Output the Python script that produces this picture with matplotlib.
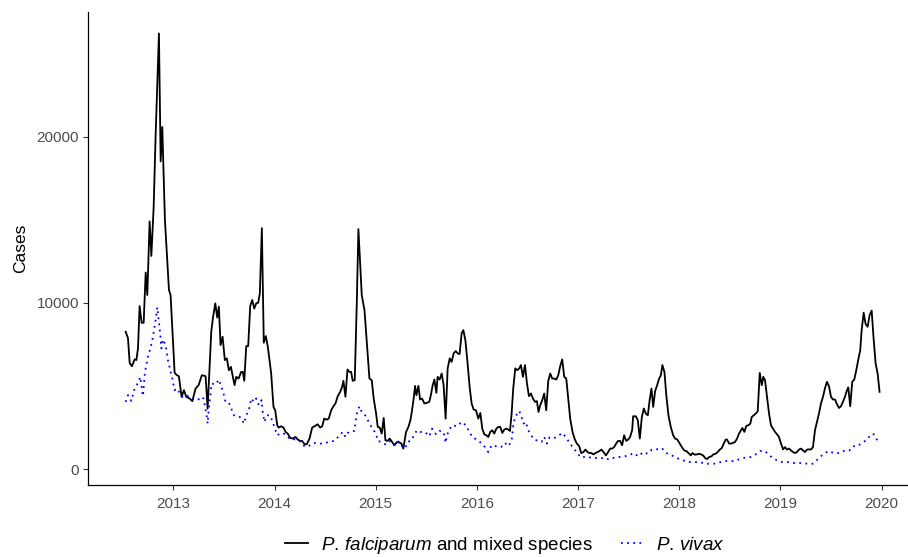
import matplotlib
matplotlib.use("Agg")
import matplotlib.pyplot as plt
from matplotlib.lines import Line2D

plt.rcParams['font.family'] = ['Liberation Sans', 'DejaVu Sans']
plt.rcParams['mathtext.fontset'] = 'custom'
plt.rcParams['mathtext.rm'] = 'Liberation Sans'
plt.rcParams['mathtext.it'] = 'Liberation Sans:italic'

# weekly case counts (x in decimal years)
falc_years = [
  2012.529, 2012.552, 2012.569, 2012.591, 2012.618, 2012.635, 2012.651, 2012.667, 2012.687, 2012.707,
  2012.727, 2012.743, 2012.766, 2012.783, 2012.806, 2012.825, 2012.858, 2012.875, 2012.891, 2012.917,
  2012.957, 2012.973, 2013.013, 2013.036, 2013.055, 2013.082, 2013.105, 2013.128, 2013.161, 2013.188,
  2013.220, 2013.250, 2013.282, 2013.319, 2013.339, 2013.375, 2013.391, 2013.415, 2013.434, 2013.450,
  2013.467, 2013.487, 2013.509, 2013.529, 2013.549, 2013.569, 2013.605, 2013.622, 2013.645, 2013.671,
  2013.687, 2013.701, 2013.721, 2013.740, 2013.760, 2013.780, 2013.800, 2013.819, 2013.839, 2013.855,
  2013.875, 2013.894, 2013.914, 2013.934, 2013.967, 2013.990, 2014.007, 2014.027, 2014.042, 2014.066,
  2014.089, 2014.109, 2014.131, 2014.155, 2014.181, 2014.207, 2014.230, 2014.254, 2014.273, 2014.296,
  2014.319, 2014.346, 2014.372, 2014.395, 2014.427, 2014.451, 2014.471, 2014.491, 2014.516, 2014.536,
  2014.560, 2014.582, 2014.602, 2014.625, 2014.649, 2014.668, 2014.681, 2014.701, 2014.721, 2014.740,
  2014.757, 2014.773, 2014.793, 2014.813, 2014.829, 2014.862, 2014.889, 2014.915, 2014.938, 2014.961,
  2014.980, 2015.004, 2015.020, 2015.040, 2015.059, 2015.079, 2015.096, 2015.118, 2015.138, 2015.162,
  2015.185, 2015.211, 2015.234, 2015.254, 2015.273, 2015.300, 2015.323, 2015.343, 2015.359, 2015.375,
  2015.389, 2015.402, 2015.422, 2015.438, 2015.458, 2015.481, 2015.507, 2015.530, 2015.547, 2015.563,
  2015.580, 2015.599, 2015.612, 2015.632, 2015.652, 2015.671, 2015.691, 2015.711, 2015.731, 2015.750,
  2015.770, 2015.790, 2015.810, 2015.829, 2015.849, 2015.866, 2015.886, 2015.908, 2015.928, 2015.948,
  2015.967, 2015.991, 2016.014, 2016.034, 2016.053, 2016.073, 2016.093, 2016.113, 2016.132, 2016.152,
  2016.172, 2016.192, 2016.211, 2016.231, 2016.251, 2016.271, 2016.290, 2016.310, 2016.327, 2016.343,
  2016.359, 2016.379, 2016.399, 2016.419, 2016.435, 2016.455, 2016.475, 2016.495, 2016.514, 2016.534,
  2016.554, 2016.574, 2016.593, 2016.609, 2016.626, 2016.646, 2016.665, 2016.685, 2016.705, 2016.725,
  2016.744, 2016.764, 2016.784, 2016.804, 2016.823, 2016.843, 2016.863, 2016.883, 2016.902, 2016.922,
  2016.945, 2016.968, 2016.988, 2017.011, 2017.031, 2017.053, 2017.073, 2017.093, 2017.113, 2017.132,
  2017.152, 2017.172, 2017.192, 2017.211, 2017.231, 2017.251, 2017.275, 2017.297, 2017.317, 2017.337,
  2017.356, 2017.376, 2017.396, 2017.416, 2017.435, 2017.455, 2017.475, 2017.495, 2017.514, 2017.534,
  2017.544, 2017.571, 2017.590, 2017.610, 2017.630, 2017.650, 2017.669, 2017.689, 2017.709, 2017.725,
  2017.742, 2017.761, 2017.781, 2017.801, 2017.818, 2017.833, 2017.853, 2017.873, 2017.893, 2017.916,
  2017.939, 2017.959, 2017.981, 2018.005, 2018.025, 2018.048, 2018.070, 2018.090, 2018.114, 2018.130,
  2018.153, 2018.176, 2018.196, 2018.215, 2018.235, 2018.255, 2018.275, 2018.294, 2018.317, 2018.337,
  2018.360, 2018.380, 2018.400, 2018.420, 2018.439, 2018.459, 2018.472, 2018.492, 2018.511, 2018.531,
  2018.551, 2018.571, 2018.590, 2018.610, 2018.623, 2018.643, 2018.662, 2018.682, 2018.702, 2018.716,
  2018.736, 2018.755, 2018.775, 2018.795, 2018.815, 2018.830, 2018.847, 2018.867, 2018.887, 2018.906,
  2018.926, 2018.946, 2018.966, 2018.985, 2019.005, 2019.025, 2019.045, 2019.064, 2019.084, 2019.104,
  2019.124, 2019.143, 2019.163, 2019.183, 2019.203, 2019.222, 2019.242, 2019.262, 2019.281, 2019.301,
  2019.321, 2019.341, 2019.360, 2019.380, 2019.400, 2019.420, 2019.439, 2019.459, 2019.479, 2019.499,
  2019.518, 2019.538, 2019.558, 2019.578, 2019.597, 2019.617, 2019.637, 2019.657, 2019.670, 2019.689,
  2019.709, 2019.729, 2019.749, 2019.768, 2019.788, 2019.802, 2019.822, 2019.841, 2019.861, 2019.881,
  2019.901, 2019.920, 2019.940, 2019.960, 2019.979,
]
falc_cases = [
  8270, 7890, 6385, 6200, 6610, 6570, 7270, 9820, 8810, 8810,
  11830, 10480, 14900, 12830, 15800, 20020, 26200, 18510, 20580, 15000,
  10780, 10480, 5800, 5660, 5600, 4360, 4760, 4360, 4260, 4100,
  4860, 5060, 5660, 5600, 3650, 8270, 9080, 9980, 9120, 9780,
  7470, 7970, 6570, 6670, 5960, 6160, 5060, 5560, 5460, 5860,
  5860, 5320, 7410, 7410, 9820, 10180, 9660, 9980, 10020, 10580,
  14500, 7610, 8010, 7370, 5760, 3750, 3550, 2650, 2510, 2590,
  2510, 2250, 2150, 1890, 1850, 1950, 1790, 1710, 1710, 1510,
  1510, 1850, 2510, 2590, 2710, 2510, 2590, 3050, 2990, 3050,
  3550, 3790, 3960, 4400, 4660, 4960, 5320, 4360, 6000, 5860,
  5860, 5320, 5360, 9980, 14440, 10480, 9580, 7370, 5460, 5360,
  4260, 3350, 2550, 2510, 2150, 3090, 1750, 1710, 1850, 1650,
  1450, 1650, 1610, 1550, 1250, 2250, 2550, 2950, 3550, 4260,
  5020, 4460, 5020, 4200, 4260, 3960, 4000, 4060, 4520, 5060,
  5400, 4600, 5560, 5400, 5760, 5060, 3050, 6070, 6670, 6460,
  6970, 7110, 6970, 6930, 8170, 8370, 7770, 6370, 4960, 3960,
  3600, 3550, 3050, 3390, 2450, 2110, 2050, 1950, 2250, 2350,
  2150, 2450, 2550, 2550, 2190, 2390, 2450, 2390, 2310, 3350,
  4860, 6070, 5960, 6070, 6270, 5560, 6270, 5160, 4400, 4560,
  4260, 4060, 4100, 3450, 3860, 4160, 4560, 3550, 5320, 5760,
  5460, 5460, 5400, 5660, 6200, 6610, 5560, 5460, 4260, 3050,
  2250, 1790, 1550, 1390, 980, 1040, 1190, 1040, 980, 980,
  900, 980, 1040, 1100, 1190, 1040, 840, 1040, 1250, 1250,
  1340, 1550, 1710, 1710, 1450, 2050, 1710, 1790, 1950, 2350,
  3190, 3190, 2950, 1850, 3150, 3660, 3350, 3250, 4260, 4860,
  3750, 4700, 5060, 5460, 5660, 6270, 5860, 4360, 3250, 2550,
  2050, 1850, 1790, 1550, 1340, 1140, 1100, 980, 840, 980,
  880, 900, 940, 900, 840, 680, 620, 740, 780, 900,
  940, 1040, 1190, 1280, 1550, 1790, 1790, 1550, 1550, 1590,
  1650, 1850, 2150, 2350, 2490, 2250, 2610, 2650, 2750, 3150,
  3250, 3350, 3490, 5800, 5060, 5560, 5360, 4360, 3350, 2650,
  2450, 2250, 2110, 1950, 1550, 1200, 1340, 1190, 1250, 1140,
  1040, 980, 1040, 1190, 1250, 1140, 1040, 1190, 1200, 1190,
  1340, 2350, 2850, 3350, 3960, 4360, 4860, 5260, 5000, 4360,
  4200, 4200, 3920, 3690, 3790, 4060, 4360, 4760, 4920, 3790,
  5260, 5400, 5960, 6570, 7170, 8370, 9420, 8730, 8570, 9280,
  9540, 7870, 6370, 5760, 4660,
]

vivax_years = [
  2012.529, 2012.552, 2012.585, 2012.618, 2012.651, 2012.674, 2012.690, 2012.700, 2012.717, 2012.727,
  2012.749, 2012.773, 2012.793, 2012.806, 2012.825, 2012.842, 2012.858, 2012.872, 2012.882, 2012.897,
  2012.924, 2012.947, 2012.970, 2012.990, 2013.013, 2013.036, 2013.062, 2013.089, 2013.118, 2013.144,
  2013.178, 2013.210, 2013.243, 2013.270, 2013.299, 2013.319, 2013.332, 2013.339, 2013.351, 2013.365,
  2013.378, 2013.418, 2013.450, 2013.467, 2013.490, 2013.516, 2013.549, 2013.573, 2013.598, 2013.638,
  2013.671, 2013.697, 2013.721, 2013.746, 2013.770, 2013.796, 2013.819, 2013.845, 2013.872, 2013.885,
  2013.901, 2013.924, 2013.951, 2013.977, 2014.000, 2014.027, 2014.056, 2014.082, 2014.116, 2014.148,
  2014.181, 2014.214, 2014.247, 2014.279, 2014.319, 2014.352, 2014.388, 2014.437, 2014.484, 2014.536,
  2014.592, 2014.635, 2014.674, 2014.701, 2014.724, 2014.757, 2014.790, 2014.807, 2014.822, 2014.839,
  2014.862, 2014.905, 2014.938, 2014.970, 2015.004, 2015.020, 2015.053, 2015.093, 2015.135, 2015.178,
  2015.217, 2015.251, 2015.290, 2015.316, 2015.355, 2015.382, 2015.409, 2015.441, 2015.488, 2015.530,
  2015.557, 2015.596, 2015.629, 2015.671, 2015.691, 2015.705, 2015.728, 2015.754, 2015.804, 2015.849,
  2015.892, 2015.925, 2015.958, 2016.001, 2016.041, 2016.080, 2016.113, 2016.145, 2016.189, 2016.238,
  2016.278, 2016.310, 2016.343, 2016.359, 2016.379, 2016.402, 2016.419, 2016.441, 2016.461, 2016.485,
  2016.501, 2016.527, 2016.567, 2016.606, 2016.639, 2016.665, 2016.692, 2016.715, 2016.757, 2016.797,
  2016.846, 2016.890, 2016.922, 2016.962, 2016.988, 2017.034, 2017.077, 2017.126, 2017.166, 2017.208,
  2017.258, 2017.307, 2017.356, 2017.406, 2017.455, 2017.504, 2017.547, 2017.596, 2017.643, 2017.685,
  2017.729, 2017.774, 2017.827, 2017.873, 2017.926, 2017.991, 2018.038, 2018.097, 2018.156, 2018.222,
  2018.278, 2018.344, 2018.410, 2018.465, 2018.531, 2018.590, 2018.650, 2018.706, 2018.755, 2018.798,
  2018.847, 2018.903, 2018.953, 2019.012, 2019.067, 2019.134, 2019.200, 2019.265, 2019.321, 2019.373,
  2019.420, 2019.472, 2019.528, 2019.585, 2019.637, 2019.683, 2019.716, 2019.758, 2019.808, 2019.857,
  2019.892, 2019.923, 2019.956,
]
vivax_cases = [
  4050, 4460, 4110, 4860, 5200, 5560, 4800, 4400, 5660, 6070,
  6770, 7270, 7770, 8270, 8980, 9740, 8870, 8070, 7270, 7810,
  7470, 6570, 5960, 5460, 4760, 4860, 4600, 4360, 4460, 4400,
  4260, 4200, 4160, 4360, 4260, 3600, 3150, 2750, 3660, 4360,
  5160, 5100, 5400, 5060, 4720, 4050, 4000, 3660, 3250, 3190,
  3110, 2750, 3250, 3550, 4260, 4050, 4260, 3860, 4160, 3390,
  2850, 3250, 3250, 2950, 2510, 2050, 2150, 2190, 2050, 1850,
  1850, 1750, 1710, 1450, 1340, 1450, 1590, 1550, 1550, 1650,
  1710, 1990, 2250, 1950, 2190, 2310, 2310, 3150, 3550, 3790,
  3450, 3190, 2750, 2450, 2110, 1710, 1650, 1510, 1710, 1450,
  1710, 1450, 1250, 1650, 1750, 2110, 2350, 2250, 2250, 1990,
  2450, 2110, 2310, 2250, 1590, 2050, 2390, 2650, 2590, 2850,
  2650, 2250, 1910, 1790, 1590, 1340, 1040, 1450, 1390, 1340,
  1590, 1390, 1710, 2650, 3190, 3350, 3510, 3150, 2750, 2850,
  2450, 2110, 1790, 1710, 1650, 1950, 1550, 1910, 1850, 1990,
  2190, 1850, 1510, 1250, 980, 700, 780, 700, 700, 640,
  700, 580, 700, 740, 780, 840, 980, 780, 1040, 940,
  1190, 1200, 1280, 980, 840, 640, 540, 440, 440, 400,
  340, 340, 440, 500, 500, 600, 700, 740, 900, 1100,
  1100, 780, 580, 440, 440, 380, 380, 340, 340, 640,
  900, 1100, 980, 980, 1140, 1140, 1390, 1390, 1590, 1790,
  2110, 2110, 1750,
]

year_ticks = [2013, 2014, 2015, 2016, 2017, 2018, 2019, 2020]
case_ticks = [0, 10000, 20000]

fig = plt.figure(figsize=(9.08, 5.57), dpi=100)
ax = fig.add_axes([88 / 908, 1 - 485 / 557, 820 / 908, 473 / 557])

ax.plot(falc_years, falc_cases, color='black', lw=1.3)
ax.plot(vivax_years, vivax_cases, color='#0000FF', lw=1.3, linestyle=(0, (1, 2.4)))

ax.set_xlim(2012.157, 2020.26)
ax.set_ylim(-940, 27490)
ax.set_xticks(year_ticks)
ax.set_xticklabels([str(y) for y in year_ticks])
ax.set_yticks(case_ticks)
ax.set_yticklabels([str(c) for c in case_ticks])

for side in ['top', 'right']:
  ax.spines[side].set_visible(False)
for side in ['left', 'bottom']:
  ax.spines[side].set_linewidth(0.9)
ax.tick_params(axis='both', length=3.5, width=0.8, color='#333333',
               labelcolor='#4D4D4D', labelsize=11)
ax.tick_params(axis='x', pad=5)
ax.tick_params(axis='y', pad=3)
ax.set_ylabel('Cases', fontsize=12.5, labelpad=6)

handles = [
  Line2D([], [], color='black', lw=1.3),
  Line2D([], [], color='#0000FF', lw=1.3, linestyle=(0, (1, 2.4))),
]
labels = [r'$\mathit{P.\,falciparum}$ and mixed species', r'$\mathit{P.\,vivax}$']
fig.legend(handles, labels, loc='center', bbox_to_anchor=(505 / 908, 1 - 545 / 557),
           ncol=2, frameon=False, fontsize=13.5, handlelength=1.2,
           handletextpad=0.7, columnspacing=1.5)

fig.savefig('out.png', dpi=100)
